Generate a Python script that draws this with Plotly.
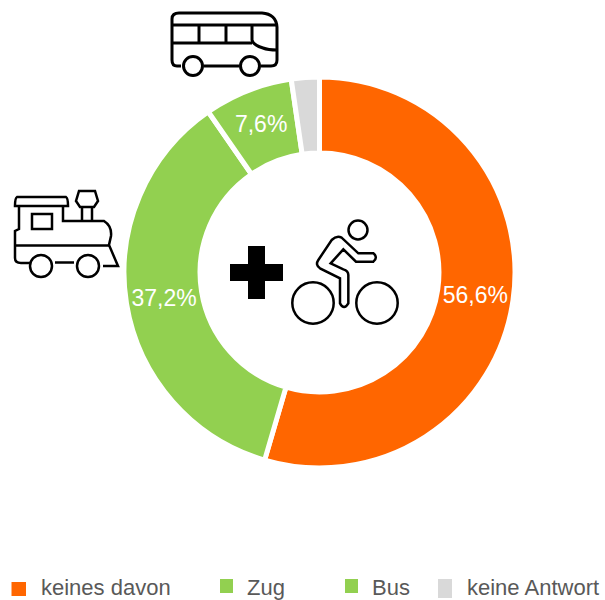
import re
import plotly.graph_objects as go

W, H = 605, 600

categories = ["keines davon", "Zug", "Bus", "keine Antwort"]
values = [56.6, 37.2, 7.6, 2.4]
labels_shown = ["56,6%", "37,2%", "7,6%", ""]
colors = ["#FF6600", "#92D050", "#92D050", "#D9D9D9"]


def px(x):
    return x / W


def py(y):
    return 1 - y / H


def path(d):
    toks = re.findall(r"[MLQCZ]|-?\d+\.?\d*", d)
    out, nums = [], []
    for t in toks:
        if t in "MLQCZ":
            out.append(t)
        else:
            nums.append(float(t))
            if len(nums) == 2:
                out.append(f"{px(nums[0]):.5f},{py(nums[1]):.5f}")
                nums = []
    return " ".join(out)


def zoomed(d, ox, oy):
    """Path written in 3x crop coordinates, returned in page pixels."""
    toks = re.findall(r"[MLQCZ]|-?\d+\.?\d*", d)
    out, n = [], 0
    for t in toks:
        if t in "MLQCZ":
            out.append(t)
        else:
            out.append(str(float(t) / 3 + (ox if n % 2 == 0 else oy)))
            n += 1
    return " ".join(out)


def stroke(d, w=3, fill="rgba(0,0,0,0)"):
    return dict(type="path", xref="paper", yref="paper", path=path(d),
                line=dict(color="black", width=w), fillcolor=fill)


def circle(cx, cy, r, w=3):
    return dict(type="circle", xref="paper", yref="paper",
                x0=px(cx - r), x1=px(cx + r), y0=py(cy + r), y1=py(cy - r),
                line=dict(color="black", width=w), fillcolor="white")


shapes = []

# bus
shapes += [
    stroke("M 181 66 L 177 66 Q 172 66 172 60 L 172 19 Q 172 13 179 13 L 262 13 "
           "Q 276 14 277 27 L 277 60 Q 277 66 271 66 L 261 66"),
    stroke("M 204 66 L 239 66"),
    stroke("M 172 25 L 277 25"),
    stroke("M 172 43 L 252 43"),
    stroke("M 199 25 L 199 43"),
    stroke("M 226 25 L 226 43"),
    stroke("M 252 25 L 252 40 Q 253 45 263 48 Q 268 50 277 50"),
    circle(193, 66, 9.5),
    circle(250, 66, 9.5),
]

# locomotive
t = 2.5
shapes += [
    stroke("M 17 197 L 66 197 Q 68 198 68 206 L 15 206 Q 15 198 17 197 Z", t),
    stroke("M 19 206 L 19 229 L 15 231 L 15 258 Q 15 263 21 263 L 30 263", t),
    stroke("M 63 206 L 63 221 L 104 221 Q 112 226 111 236 L 109 245 L 118 266 L 103 266", t),
    stroke("M 15 245.5 L 110 245.5", t),
    stroke("M 55 262.5 L 74 262.5", t),
    stroke("M 32 214 L 52 214 L 52 229 L 32 229 Z", t),
    stroke("M 82 221 L 82 207 M 92 207 L 92 221", t),
    stroke("M 79 191 L 95 191 L 98 201 L 94 207 L 80 207 L 76 201 Z", t),
    circle(41, 266, 11, t),
    circle(88, 266, 11, t),
]

# plus sign
shapes.append(dict(type="path", xref="paper", yref="paper",
                   path=path("M 248 246 L 265 246 L 265 264 L 283 264 L 283 281 L 265 281 "
                             "L 265 299 L 248 299 L 248 281 L 230 281 L 230 264 L 248 264 Z"),
                   fillcolor="black", line=dict(width=0)))

# cyclist
rider = ("M 460 160 L 415 160 L 365 113 Q 350 105 335 120 L 295 180 Q 285 195 300 205 "
         "L 360 235 L 360 310 Q 372 332 385 310 L 385 225 Q 385 212 370 208 L 332 190 "
         "L 370 148 L 408 185 L 460 185 Q 475 172 460 160 Z")
shapes += [
    stroke(zoomed(rider, 220, 200), t),
    circle(358, 230, 9.5, t),
    circle(313, 303, 20.7, t),
    circle(377, 303, 20.7, t),
]

# legend
legend_pos = [
    (11.5, 582, 26, 596, 40),
    (220, 579, 233, 593, 246),
    (345, 579, 358, 593, 371),
    (438, 579, 452, 598, 466),
]
annotations = []
for name, col, (x0, y0, x1, y1, tx) in zip(categories, colors, legend_pos):
    shapes.append(dict(type="rect", xref="paper", yref="paper",
                       x0=px(x0), x1=px(x1), y0=py(y1), y1=py(y0),
                       fillcolor=col, line=dict(width=0)))
    annotations.append(dict(text=name, xref="paper", yref="paper", x=px(tx), y=py(587),
                            xanchor="left", yanchor="middle", showarrow=False,
                            xshift=-1,
                            font=dict(family="Liberation Sans", size=22, color="#595959")))

R = 195.5
fig = go.Figure(go.Pie(
    labels=categories,
    values=values,
    text=labels_shown,
    textinfo="text",
    textposition="inside",
    insidetextorientation="horizontal",
    insidetextfont=dict(family="Liberation Sans", size=23, color="white"),
    hole=0.611,
    sort=False,
    direction="clockwise",
    rotation=0,
    marker=dict(colors=colors, line=dict(color="white", width=5)),
    domain=dict(x=[px(319.5 - R), px(319.5 + R)], y=[py(272.5 + R), py(272.5 - R)]),
    showlegend=False,
))

fig.update_layout(
    width=W, height=H,
    margin=dict(l=0, r=0, t=0, b=0),
    paper_bgcolor="white",
    plot_bgcolor="white",
    shapes=shapes,
    annotations=annotations,
)
fig.write_html("out.html", config={"displayModeBar": False},
               post_script="document.body.style.margin='0';document.documentElement.style.overflow='hidden';")
